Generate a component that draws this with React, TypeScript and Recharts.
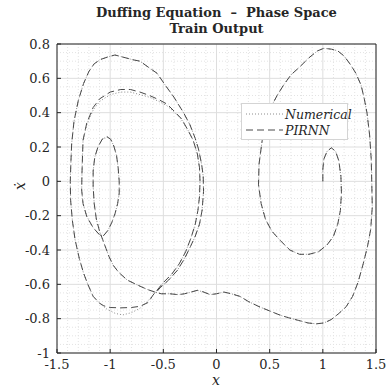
import React from 'react';
import { LineChart, Line, XAxis, YAxis, CartesianGrid, Legend } from 'recharts';

// axis ticks
const xTicks = [-1.5, -1, -0.5, 0, 0.5, 1, 1.5];
const yTicks = [-1, -0.8, -0.6, -0.4, -0.2, 0, 0.2, 0.4, 0.6, 0.8];

// trajectory pieces [x, xdot], in time order
const rightSmallLoop: [number, number][] = [
    [1.0, 0.0], [1.0, 0.07], [1.01, 0.13], [1.04, 0.175], [1.08, 0.195], [1.12, 0.175], [1.15, 0.12],
    [1.17, 0.03], [1.175, -0.07], [1.165, -0.17], [1.14, -0.25], [1.1, -0.32], [1.04, -0.37],
    [0.96, -0.41], [0.87, -0.425], [0.78, -0.425], [0.69, -0.4], [0.6, -0.345], [0.52, -0.29],
    [0.46, -0.22], [0.42, -0.13], [0.395, -0.02],
];
const rightBigLoop: [number, number][] = [
    [0.4, 0.1], [0.43, 0.24], [0.47, 0.35], [0.51, 0.43], [0.57, 0.5], [0.63, 0.56], [0.7, 0.62],
    [0.78, 0.665], [0.87, 0.72], [0.95, 0.76], [1.01, 0.775], [1.08, 0.77], [1.14, 0.76], [1.2, 0.73],
    [1.26, 0.68], [1.31, 0.63], [1.36, 0.56], [1.39, 0.48], [1.415, 0.4], [1.44, 0.27], [1.455, 0.13],
    [1.46, 0.0], [1.465, -0.15], [1.45, -0.28], [1.42, -0.38], [1.38, -0.48], [1.33, -0.59],
    [1.28, -0.67], [1.22, -0.73], [1.15, -0.77], [1.08, -0.805], [1.01, -0.825], [0.94, -0.83],
    [0.86, -0.825], [0.77, -0.81], [0.68, -0.795], [0.6, -0.78], [0.5, -0.755], [0.4, -0.73],
    [0.3, -0.7], [0.22, -0.67],
];
const crossing: [number, number][] = [
    [0.14, -0.655], [0.07, -0.645], [0.0, -0.655], [-0.06, -0.66], [-0.12, -0.645], [-0.18, -0.635],
    [-0.24, -0.645], [-0.3, -0.655], [-0.36, -0.66], [-0.44, -0.655], [-0.52, -0.655], [-0.58, -0.645],
    [-0.65, -0.63], [-0.74, -0.605], [-0.84, -0.575], [-0.92, -0.53], [-0.97, -0.49], [-1.01, -0.44],
    [-1.04, -0.39], [-1.07, -0.34], [-1.1, -0.29],
];
const innerLoop: [number, number][] = [
    [-1.13, -0.22], [-1.15, -0.13], [-1.16, -0.03], [-1.16, 0.06], [-1.145, 0.14], [-1.115, 0.2],
    [-1.075, 0.245], [-1.03, 0.26], [-0.995, 0.245], [-0.965, 0.205], [-0.94, 0.15], [-0.925, 0.08],
    [-0.915, 0.0], [-0.915, -0.07], [-0.93, -0.13], [-0.955, -0.19], [-0.985, -0.24], [-1.02, -0.285],
    [-1.06, -0.315], [-1.095, -0.315],
];
const middleLoopNum: [number, number][] = [
    [-1.16, -0.27], [-1.22, -0.205], [-1.255, -0.13], [-1.268, -0.05], [-1.265, 0.05], [-1.26, 0.15],
    [-1.255, 0.24], [-1.22, 0.33], [-1.16, 0.415], [-1.1, 0.465], [-1.0, 0.505], [-0.9, 0.52],
    [-0.81, 0.52], [-0.72, 0.505], [-0.63, 0.49], [-0.54, 0.465], [-0.465, 0.44], [-0.4, 0.405],
    [-0.33, 0.36], [-0.27, 0.3], [-0.22, 0.24], [-0.18, 0.16], [-0.16, 0.08], [-0.155, 0.0],
    [-0.16, -0.09], [-0.175, -0.17], [-0.2, -0.25], [-0.24, -0.33], [-0.29, -0.41], [-0.35, -0.48],
    [-0.42, -0.54], [-0.5, -0.59], [-0.56, -0.635], [-0.6, -0.665],
];
const middleLoopPirnn: [number, number][] = [
    [-1.16, -0.27], [-1.22, -0.205], [-1.255, -0.13], [-1.268, -0.05], [-1.265, 0.05], [-1.26, 0.15],
    [-1.255, 0.24], [-1.22, 0.34], [-1.16, 0.43], [-1.1, 0.48], [-1.0, 0.52], [-0.9, 0.535],
    [-0.81, 0.535], [-0.72, 0.52], [-0.63, 0.5], [-0.54, 0.475], [-0.465, 0.45], [-0.4, 0.41],
    [-0.33, 0.365], [-0.27, 0.3], [-0.22, 0.24], [-0.18, 0.16], [-0.16, 0.08], [-0.155, 0.0],
    [-0.16, -0.09], [-0.175, -0.17], [-0.2, -0.25], [-0.24, -0.33], [-0.29, -0.41], [-0.35, -0.48],
    [-0.42, -0.54], [-0.5, -0.59], [-0.56, -0.635], [-0.6, -0.665],
];
const bottomNum: [number, number][] = [
    [-0.65, -0.7], [-0.72, -0.74], [-0.8, -0.765], [-0.88, -0.778], [-0.95, -0.77], [-1.03, -0.745],
    [-1.1, -0.71],
];
const bottomPirnn: [number, number][] = [
    [-0.64, -0.705], [-0.72, -0.728], [-0.8, -0.735], [-0.9, -0.737], [-1.0, -0.735], [-1.06, -0.725],
    [-1.1, -0.71],
];
const outerLoop: [number, number][] = [
    [-1.16, -0.67], [-1.21, -0.6], [-1.25, -0.535], [-1.29, -0.45], [-1.33, -0.34], [-1.355, -0.23],
    [-1.372, -0.11], [-1.375, 0.0], [-1.37, 0.1], [-1.362, 0.22], [-1.34, 0.35], [-1.3, 0.47],
    [-1.25, 0.57], [-1.2, 0.64], [-1.15, 0.685], [-1.09, 0.71], [-1.02, 0.725], [-0.955, 0.736],
    [-0.87, 0.722], [-0.785, 0.708], [-0.72, 0.7], [-0.63, 0.66], [-0.56, 0.63], [-0.47, 0.55],
    [-0.4, 0.49], [-0.31, 0.4], [-0.25, 0.33], [-0.2, 0.25], [-0.17, 0.19], [-0.14, 0.1],
    [-0.125, 0.03], [-0.122, -0.06], [-0.135, -0.167], [-0.16, -0.25], [-0.2, -0.32], [-0.245, -0.38],
    [-0.3, -0.45], [-0.37, -0.52], [-0.45, -0.575], [-0.53, -0.62], [-0.58, -0.655],
];

const numerical = [...rightSmallLoop, ...rightBigLoop, ...crossing, ...innerLoop, ...middleLoopNum, ...bottomNum, ...outerLoop];
const pirnn = [...rightSmallLoop, ...rightBigLoop, ...crossing, ...innerLoop, ...middleLoopPirnn, ...bottomPirnn, ...outerLoop];

const toRows = (pts: [number, number][]) => pts.map(([x, v]) => ({ x, v }));

// minor grid (MATLAB style)
const minorX: number[] = [];
for (let i = -15; i <= 15; i++) if (i % 5 !== 0) minorX.push(i / 10);
const minorY: number[] = [];
for (let i = -20; i <= 16; i++) if (i % 4 !== 0) minorY.push(i / 20);

const serif = 'DejaVu Serif';
const ink = '#262626';
const numColor = '#8c8c8c';
const pirnnColor = '#4a4a4a';

const LegendBox = () => (
    <div style={{
        width: 107, height: 37, boxSizing: 'border-box', border: '1px solid #d4d4d4', background: '#fff',
        fontFamily: serif, fontStyle: 'italic', fontSize: 12.5, color: ink, paddingTop: 2,
    }}>
        {[{ name: 'Numerical', color: numColor, dash: '1 2' }, { name: 'PIRNN', color: pirnnColor, dash: '7 4' }].map(s => (
            <div key={s.name} style={{ display: 'flex', alignItems: 'center', height: 16 }}>
                <svg width={43} height={10} style={{ flex: 'none' }}>
                    <line x1={4} x2={41} y1={5} y2={5} stroke={s.color} strokeDasharray={s.dash} />
                </svg>
                <span>{s.name}</span>
            </div>
        ))}
    </div>
);

export default function App() {
    const tickStyle = { fontFamily: serif, fontSize: 13, fill: ink };
    return (
        <div style={{ position: 'absolute', left: 0, top: 0, width: 386, height: 390, background: '#fff' }}>
            <div style={{
                position: 'absolute', left: 57, width: 319, top: 5, textAlign: 'center', fontFamily: serif,
                fontWeight: 'bold', fontSize: 13, lineHeight: '16px', color: ink, whiteSpace: 'pre',
            }}>
                {'Duffing Equation  \u2013  Phase Space'}
                <br />
                {'Train Output'}
            </div>
            <LineChart width={386} height={390} margin={{ top: 0, right: 0, bottom: 0, left: 0 }}>
                <CartesianGrid verticalValues={minorX} horizontalValues={minorY} stroke="#e3e3e3" strokeDasharray="1 2" />
                <CartesianGrid stroke="#dedede" />
                <XAxis dataKey="x" type="number" domain={[-1.5, 1.5]} ticks={xTicks} height={37} allowDataOverflow
                    tickSize={-4} tickMargin={11} tick={tickStyle} stroke={ink} tickLine={{ stroke: ink }} interval={0} />
                <XAxis xAxisId="top" orientation="top" type="number" domain={[-1.5, 1.5]} ticks={xTicks} height={44}
                    tickSize={-4} tickFormatter={() => ''} stroke={ink} interval={0} />
                <YAxis type="number" domain={[-1, 0.8]} ticks={yTicks} width={57} allowDataOverflow
                    tickSize={-4} tickMargin={11} tick={tickStyle} stroke={ink} interval={0} />
                <YAxis yAxisId="right" orientation="right" type="number" domain={[-1, 0.8]} ticks={yTicks} width={10}
                    tickSize={-4} tickFormatter={() => ''} stroke={ink} interval={0} />
                <Line data={toRows(numerical)} dataKey="v" name="Numerical" type="linear" dot={false}
                    stroke={numColor} strokeWidth={1} strokeDasharray="1 2" isAnimationActive={false} />
                <Line data={toRows(pirnn)} dataKey="v" name="PIRNN" type="linear" dot={false}
                    stroke={pirnnColor} strokeWidth={1} strokeDasharray="7 4" isAnimationActive={false} />
                <Legend layout="horizontal" verticalAlign="middle" align="center" content={<LegendBox />}
                    wrapperStyle={{ left: 241, top: 103, width: 107, height: 37 }} />
            </LineChart>
            <div style={{
                position: 'absolute', left: 196, width: 40, top: 372, textAlign: 'center', fontFamily: serif,
                fontStyle: 'italic', fontSize: 14, color: ink,
            }}>x</div>
            <div style={{
                position: 'absolute', left: 0, width: 40, top: 178, textAlign: 'center', fontFamily: serif,
                fontStyle: 'italic', fontSize: 14, color: ink, transform: 'rotate(-90deg)',
            }}>{'\u1E8B'}</div>
        </div>
    );
}
